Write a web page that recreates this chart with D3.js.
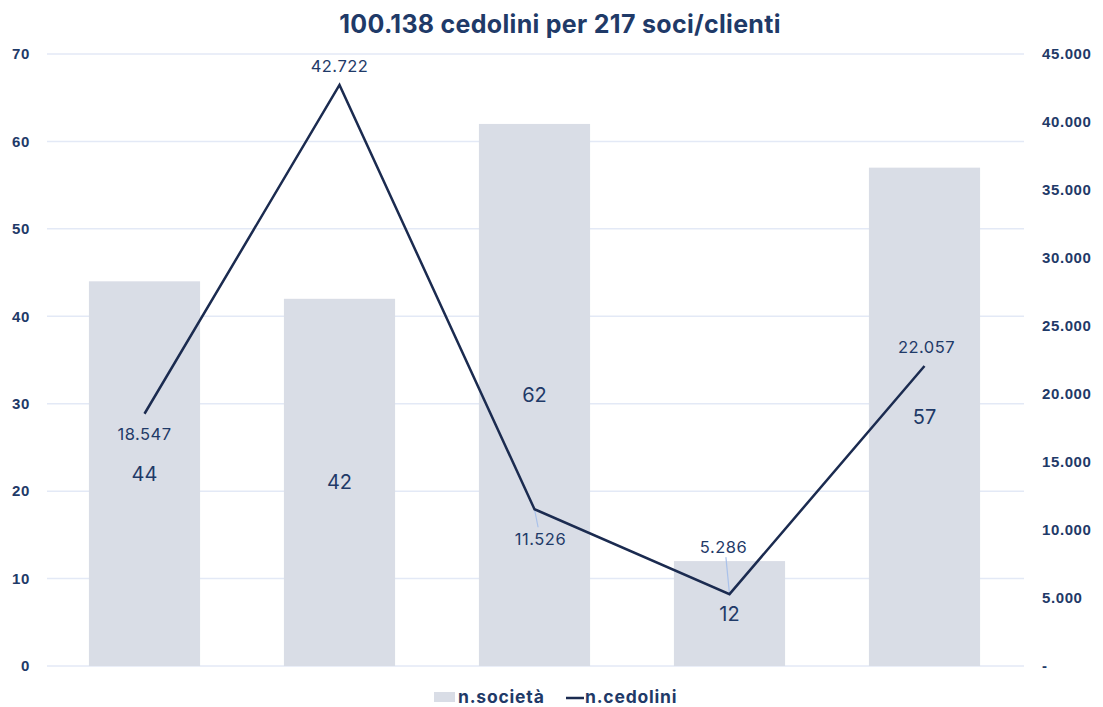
<!DOCTYPE html>
<html>
<head>
<meta charset="utf-8">
<script src="https://cdn.jsdelivr.net/npm/d3@7"></script>
<style>
  body { margin: 0; background: #fff; }
  svg { display: block; font-family: Inter, "Open Sans", sans-serif; }
</style>
</head>
<body>
<div id="chart"></div>
<script>
// data
const categories = ["A", "B", "C", "D", "E"]
const societa = [44, 42, 62, 12, 57]
const cedolini = [18547, 42722, 11526, 5286, 22057]
const leftTicks = [0, 10, 20, 30, 40, 50, 60, 70]
const rightTicks = [0, 5000, 10000, 15000, 20000, 25000, 30000, 35000, 40000, 45000]
const title = "100.138 cedolini per 217 soci/clienti"

const navy = "#1f3a68"
const lineColor = "#1b2b50"
const barColor = "#d9dde6"
const gridColor = "#e3e9f6"

const W = 1103, H = 707
let margin = { top: 54, right: 81, bottom: 41, left: 47 }
let width = W - margin.left - margin.right
let height = H - margin.top - margin.bottom

const svg = d3.select("#chart").append("svg")
    .attr("width", W)
    .attr("height", H)

const g = svg.append("g")
    .attr("transform", "translate(" + margin.left + "," + margin.top + ")")

const x = d3.scaleBand().domain(categories).range([0, width]).paddingInner(0.43).paddingOuter(0.215)
const yL = d3.scaleLinear().domain([0, 70]).range([height, 0])
const yR = d3.scaleLinear().domain([0, 45000]).range([height, 0])

// gridlines
g.append("g")
    .selectAll("line")
    .data(leftTicks)
    .enter()
    .append("line")
    .attr("x1", 0)
    .attr("x2", width + 2)
    .attr("y1", d => yL(d))
    .attr("y2", d => yL(d))
    .attr("stroke", gridColor)
    .attr("stroke-width", 1.5)

// left axis
const leftAxis = g.append("g")
    .call(d3.axisLeft(yL).tickValues(leftTicks).tickSize(0).tickPadding(17))
// right axis
const fmt = d => d === 0 ? "-" : d3.format(",")(d).replace(/,/g, ".")
const rightAxis = g.append("g")
    .attr("transform", "translate(" + (width + 20) + ",0)")
    .call(d3.axisRight(yR).tickValues(rightTicks).tickSize(0).tickPadding(0).tickFormat(fmt))

;[leftAxis, rightAxis].forEach(a => {
    a.select(".domain").remove()
    a.selectAll(".tick text")
        .attr("font-size", 15)
        .attr("font-weight", 700)
        .attr("letter-spacing", 0.6)
        .style("fill", navy)
})

// bars
g.append("g")
    .selectAll("rect")
    .data(societa)
    .enter()
    .append("rect")
    .attr("x", (d, i) => x(categories[i]))
    .attr("y", d => yL(d))
    .attr("width", x.bandwidth())
    .attr("height", d => height - yL(d))
    .attr("fill", barColor)

// bar labels (middle of the bar)
g.append("g")
    .selectAll("text")
    .data(societa)
    .enter()
    .append("text")
    .attr("x", (d, i) => x(categories[i]) + x.bandwidth() / 2)
    .attr("y", d => (yL(d) + height) / 2)
    .attr("dy", "0.35em")
    .attr("text-anchor", "middle")
    .attr("font-size", 20)
    .style("fill", navy)
    .text(d => d)

// line
const cx = i => x(categories[i]) + x.bandwidth() / 2
const line = d3.line()
    .x((d, i) => cx(i))
    .y(d => yR(d))

// line label offsets (relative to the point) and optional leader lines
const labelDx = [0, 0, 6, -6, 2]
const labelDy = [20, -19, 30, -47, -19]
const leader = [false, false, true, true, false]

g.append("g")
    .selectAll("line")
    .data(cedolini)
    .enter()
    .filter((d, i) => leader[i])
    .append("line")
    .attr("x1", (d, i) => cx(cedolini.indexOf(d)))
    .attr("y1", d => yR(d))
    .attr("x2", d => { const i = cedolini.indexOf(d); return cx(i) + labelDx[i] * 0.6 })
    .attr("y2", d => { const i = cedolini.indexOf(d); return yR(d) + labelDy[i] + (labelDy[i] > 0 ? -12 : 10) })
    .attr("stroke", "#a9c1ea")
    .attr("stroke-width", 1.2)

g.append("path")
    .datum(cedolini)
    .attr("d", line)
    .attr("fill", "none")
    .attr("stroke", lineColor)
    .attr("stroke-width", 2.5)

g.append("g")
    .selectAll("text")
    .data(cedolini)
    .enter()
    .append("text")
    .attr("x", (d, i) => cx(i) + labelDx[i])
    .attr("y", (d, i) => yR(d) + labelDy[i])
    .attr("dy", "0.35em")
    .attr("text-anchor", "middle")
    .attr("font-size", 16.5)
    .attr("letter-spacing", 0.5)
    .style("fill", navy)
    .text(d => fmt(d))

// title
svg.append("text")
    .attr("x", 560)
    .attr("y", 33)
    .attr("text-anchor", "middle")
    .attr("font-size", 25)
    .attr("font-weight", 700)
    .attr("letter-spacing", 0.3)
    .style("fill", navy)
    .text(title)

// legend
const legend = svg.append("g").attr("transform", "translate(434,697)")
legend.append("rect")
    .attr("x", 0).attr("y", -5).attr("width", 21).attr("height", 10)
    .attr("fill", barColor)
legend.append("text")
    .attr("x", 24).attr("y", 0).attr("dy", "0.35em")
    .attr("font-size", 17.5).attr("font-weight", 700)
    .attr("letter-spacing", 0.8)
    .style("fill", navy)
    .text("n.società")
legend.append("line")
    .attr("x1", 132).attr("x2", 150).attr("y1", 1).attr("y2", 1)
    .attr("stroke", lineColor).attr("stroke-width", 2.5)
legend.append("text")
    .attr("x", 151).attr("y", 0).attr("dy", "0.35em")
    .attr("font-size", 17.5).attr("font-weight", 700)
    .attr("letter-spacing", 0.8)
    .style("fill", navy)
    .text("n.cedolini")
</script>
</body>
</html>
